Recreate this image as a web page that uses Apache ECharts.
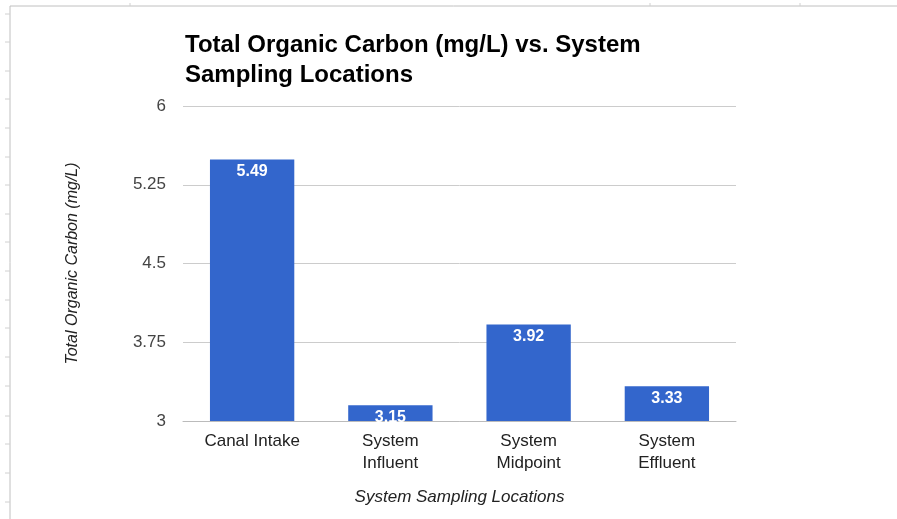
<!DOCTYPE html>
<html>
<head>
<meta charset="utf-8">
<script src="https://cdn.jsdelivr.net/npm/echarts@6/dist/echarts.min.js"></script>
<style>
  html, body { margin: 0; padding: 0; background: #fff; }
  #chart { width: 897px; height: 519px; }
</style>
</head>
<body>
<div id="chart"></div>
<script>
// 数据
const categories = ['Canal Intake', 'System\nInfluent', 'System\nMidpoint', 'System\nEffluent'];
const tocValues = [5.49, 3.15, 3.92, 3.33];
const yTicks = [3, 3.75, 4.5, 5.25, 6];

const chart = echarts.init(document.getElementById('chart'));

// 表格边框（背景装饰）
const frame = [
    { type: 'line', shape: { x1: 10, y1: 6, x2: 897, y2: 6 }, style: { stroke: '#c0c0c0', lineWidth: 1 } },
    { type: 'line', shape: { x1: 10, y1: 6, x2: 10, y2: 519 }, style: { stroke: '#c0c0c0', lineWidth: 1 } }
];
[14, 42, 71, 99, 128, 157, 185, 214, 242, 271, 300, 328, 357, 386, 416, 444, 473, 502].forEach(y => {
    frame.push({ type: 'line', shape: { x1: 5, y1: y, x2: 10, y2: y }, style: { stroke: '#d0d0d0', lineWidth: 1 } });
});
[130, 650, 800].forEach(x => {
    frame.push({ type: 'line', shape: { x1: x, y1: 3, x2: x, y2: 6 }, style: { stroke: '#d0d0d0', lineWidth: 1 } });
});

const option = {
    animation: false,
    textStyle: { fontFamily: 'Liberation Sans, Arial, sans-serif' },
    title: {
        text: 'Total Organic Carbon (mg/L) vs. System\nSampling Locations',
        left: 180,
        top: 25,
        textStyle: { fontSize: 24, fontWeight: 'bold', color: '#000', lineHeight: 30 }
    },
    graphic: frame,
    grid: { left: 183, right: 161, top: 106, bottom: 98 },
    xAxis: {
        type: 'category',
        data: categories,
        name: 'System Sampling Locations',
        nameLocation: 'middle',
        nameGap: 68,
        nameTextStyle: { fontStyle: 'italic', fontSize: 17, color: '#222' },
        axisLine: { show: true, lineStyle: { color: '#bbb' } },
        axisTick: { show: false },
        axisLabel: { fontSize: 17, color: '#222', lineHeight: 22, margin: 9, interval: 0 }
    },
    yAxis: {
        type: 'value',
        min: 3,
        max: 6,
        interval: 0.75,
        name: 'Total Organic Carbon (mg/L)',
        nameLocation: 'middle',
        nameGap: 102,
        nameTextStyle: { fontStyle: 'italic', fontSize: 16, color: '#222' },
        axisLine: { show: false },
        axisTick: { show: false },
        axisLabel: { fontSize: 17, color: '#444', margin: 17 },
        splitLine: { lineStyle: { color: '#ccc' } }
    },
    series: [{
        type: 'bar',
        data: tocValues,
        barWidth: '61%',
        itemStyle: { color: '#3366cc' },
        label: {
            show: true,
            position: 'insideTop',
            distance: 4,
            color: '#fff',
            fontWeight: 'bold',
            fontSize: 16
        }
    }]
};

chart.setOption(option);
</script>
</body>
</html>
